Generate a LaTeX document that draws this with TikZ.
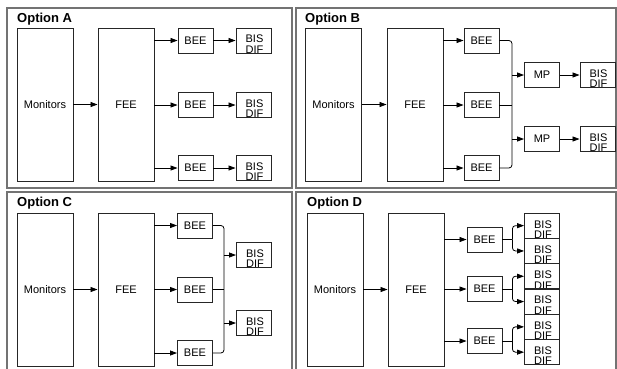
\documentclass[tikz,border=0pt]{standalone}
\usepackage{fontspec}
\setmainfont{Liberation Sans}
\usetikzlibrary{arrows.meta}
\tikzset{
 panel/.style={draw=black!55, line width=1.4pt},
 blk/.style={draw=black!85, line width=0.9pt, fill=white, inner sep=0pt, font=\fontsize{11}{12}\selectfont},
 tall/.style={blk, minimum width=56pt, minimum height=153pt},
 small/.style={blk, minimum width=35pt, minimum height=25pt},
 bistxt/.style={anchor=base, inner sep=0pt, font=\fontsize{11}{12}\selectfont},
 bis/.style={small, path picture={
   \node[bistxt] at ([xshift=1pt,yshift=-2.4pt]path picture bounding box.center) {BIS};
   \node[bistxt] at ([xshift=1pt,yshift=-12.8pt]path picture bounding box.center) {DIF};}},
 arr/.style={-{Triangle[length=7pt,width=5pt]}, line width=0.8pt},
 con/.style={line width=0.8pt, rounded corners=3pt},
 ttl/.style={anchor=base west, inner sep=0pt, font=\bfseries\fontsize{13}{15}\selectfont}
}
\begin{document}
\begin{tikzpicture}[x=1pt,y=-1pt]
\useasboundingbox (0,0) rectangle (617,368);
\clip (0,0) rectangle (617,368);
% frames
\draw[panel] (7,8) rectangle (292,188);
\draw[panel] (296,8) rectangle (616,188);
\draw[panel] (7,192) rectangle (292,380);
\draw[panel] (296,192) rectangle (616,380);
\node[ttl] (tA) at (17,22.6) {Option A};
\node[ttl] (tB) at (305,22.6) {Option B};
\node[ttl] (tC) at (17,206.5) {Option C};
\node[ttl] (tD) at (307,206.5) {Option D};
% ---------- Option A
\node[tall] (monA) at (45,104.5) {Monitors};
\node[tall] (feeA) at (126,104.5) {FEE};
\node[small] (beeA1) at (195.5,40.5) {BEE};
\node[small] (beeA2) at (195.5,105) {BEE};
\node[small] (beeA3) at (195.5,168) {BEE};
\node[bis] (bisA1) at (253.5,40.5) {};
\node[bis] (bisA2) at (253.5,105) {};
\node[bis] (bisA3) at (253.5,168) {};
\draw[arr] (monA.east) -- (feeA.west);
\foreach \i in {1,2,3}{
 \draw[arr] (feeA.east |- beeA\i.west) -- (beeA\i.west);
 \draw[arr] (beeA\i.east) -- (bisA\i.west);
}
% ---------- Option B
\node[tall] (monB) at (333.5,104.5) {Monitors};
\node[tall] (feeB) at (415,104.5) {FEE};
\node[small] (beeB1) at (481.5,40.5) {BEE};
\node[small] (beeB2) at (481.5,105) {BEE};
\node[small] (beeB3) at (481.5,168) {BEE};
\node[small] (mpB1) at (542,75) {MP};
\node[small] (mpB2) at (542,139) {MP};
\node[bis] (bisB1) at (597.5,75) {};
\node[bis] (bisB2) at (597.5,139) {};
\draw[arr] (monB.east) -- (feeB.west);
\foreach \i in {1,2,3}{
 \draw[arr] (feeB.east |- beeB\i.west) -- (beeB\i.west);
}
\coordinate (jB) at ([xshift=12.5pt]beeB2.east);
\draw[con] (beeB1.east) -| (jB) |- (beeB3.east);
\draw[con] (beeB2.east) -- (jB);
\draw[arr] (jB |- mpB1.west) -- (mpB1.west);
\draw[arr] (jB |- mpB2.west) -- (mpB2.west);
\draw[arr] (mpB1.east) -- (bisB1.west);
\draw[arr] (mpB2.east) -- (bisB2.west);
% ---------- Option C
\node[tall] (monC) at (45,289.5) {Monitors};
\node[tall] (feeC) at (126,289.5) {FEE};
\node[small] (beeC1) at (195,225.5) {BEE};
\node[small] (beeC2) at (195,289.5) {BEE};
\node[small] (beeC3) at (195,353) {BEE};
\node[bis] (bisC1) at (254,255) {};
\node[bis] (bisC2) at (254,323) {};
\draw[arr] (monC.east) -- (feeC.west);
\foreach \i in {1,2,3}{
 \draw[arr] (feeC.east |- beeC\i.west) -- (beeC\i.west);
}
\coordinate (jC) at ([xshift=11pt]beeC2.east);
\draw[con] (beeC1.east) -| (jC) |- (beeC3.east);
\draw[con] (beeC2.east) -- (jC);
\draw[arr] (jC |- bisC1.west) -- (bisC1.west);
\draw[arr] (jC |- bisC2.west) -- (bisC2.west);
% ---------- Option D
\node[tall] (monD) at (335,289.5) {Monitors};
\node[tall] (feeD) at (416,289.5) {FEE};
\node[small] (beeD1) at (484.5,239.5) {BEE};
\node[small] (beeD2) at (484.5,289) {BEE};
\node[small] (beeD3) at (484.5,341) {BEE};
\foreach \k/\yy in {1/225.65,2/250.95,3/276.25,4/301.55,5/326.85,6/352.15}{
 \node[bis] (bisD\k) at (542,\yy) {};
}
\draw[arr] (monD.east) -- (feeD.west);
\foreach \i/\a/\b in {1/1/2,2/3/4,3/5/6}{
 \draw[arr] (feeD.east |- beeD\i.west) -- (beeD\i.west);
 \coordinate (jD\i) at ([xshift=10pt]beeD\i.east);
 \draw[con] (beeD\i.east) -- (jD\i);
 \draw[arr, rounded corners=3pt] (jD\i) |- (bisD\a.west);
 \draw[arr, rounded corners=3pt] (jD\i) |- (bisD\b.west);
}
\end{tikzpicture}
\end{document}
